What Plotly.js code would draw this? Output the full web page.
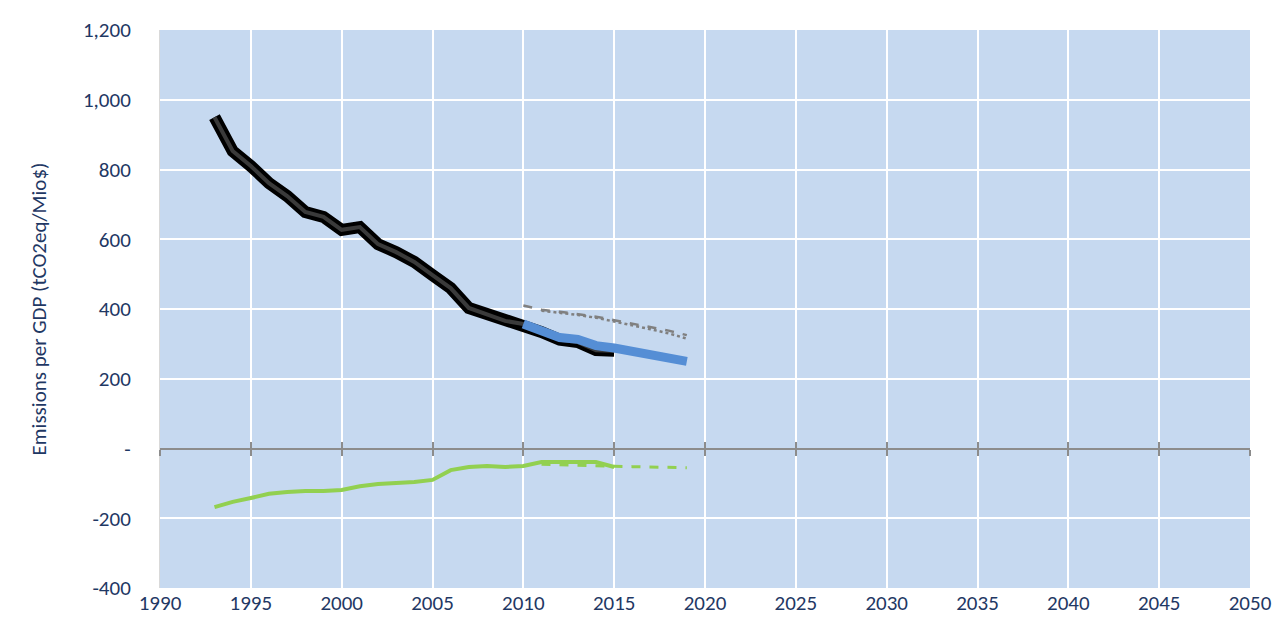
<!DOCTYPE html>
<html>
<head>
<meta charset="utf-8">
<script src="https://cdn.plot.ly/plotly-3.0.1.min.js"></script>
<style>html,body{margin:0;padding:0;background:#fff;}#chart{width:1278px;height:634px;}</style>
</head>
<body>
<div id="chart"></div>
<script>
// historic emissions intensity
const yearsHist = [1993,1994,1995,1996,1997,1998,1999,2000,2001,2002,2003,2004,2005,2006,2007,2008,2009,2010,2011,2012,2013,2014,2015];
const histValues = [950,853,810,761,724,678,664,627,635,586,563,535,497,460,403,386,366,357,334,312,305,282,280];
const sinkValues = [-168,-153,-142,-130,-125,-122,-122,-119,-108,-102,-99,-96,-90,-62,-53,-50,-53,-50,-39,-39,-39,-39,-53];

const yearsProj = [2010,2011,2012,2013,2014,2015,2016,2017,2018,2019];
const projValues = [357,340,318,313,295,288,278,268,258,250];
const grayDashed = [410,398,392,385,378,368,358,348,338,325];

const yearsProj2 = [2011,2012,2013,2014,2015,2016,2017,2018,2019];
const grayDotted = [395,390,383,375,365,353,342,330,315];
const sinkProj = [-45,-47,-48,-50,-51,-52,-53,-54,-55];

const xTicks = [1990,1995,2000,2005,2010,2015,2020,2025,2030,2035,2040,2045,2050];
const yTicks = [-400,-200,0,200,400,600,800,1000,1200];
const yTickText = ['-400','-200','-','200','400','600','800','1,000','1,200'];

const AXIS_BLUE = '#1f3864';

const traces = [
  { x: yearsProj2, y: sinkProj, mode: 'lines', line: { color: '#92d050', width: 3, dash: 'dash' } },
  { x: yearsHist, y: sinkValues, mode: 'lines', line: { color: '#92d050', width: 4 } },
  { x: yearsProj, y: grayDashed, mode: 'lines', line: { color: '#808080', width: 2.5, dash: 'dash' } },
  { x: yearsProj2, y: grayDotted, mode: 'lines', line: { color: '#808080', width: 2.5, dash: 'dot' } },
  { x: yearsHist, y: histValues, mode: 'lines', line: { color: '#000000', width: 12 } },
  { x: yearsHist, y: histValues, mode: 'lines', line: { color: '#3a3a3a', width: 4 } },
  { x: yearsProj, y: projValues, mode: 'lines', line: { color: '#558ed5', width: 9 } }
];

const zeroAxis = (side) => ({
  overlaying: 'x', anchor: 'free', position: 0.25,
  range: [1990, 2050], tickvals: xTicks, showticklabels: false,
  ticks: side, ticklen: 6, tickwidth: 2, tickcolor: '#8c8c8c',
  showline: true, linecolor: '#8c8c8c', linewidth: 2, showgrid: false, zeroline: false
});

const layout = {
  width: 1278, height: 634,
  margin: { l: 160, r: 28, t: 30, b: 46 },
  paper_bgcolor: '#ffffff',
  plot_bgcolor: '#c6d9f0',
  showlegend: false,
  font: { family: 'Calibri, Carlito, "Liberation Sans", sans-serif', color: AXIS_BLUE, size: 21 },
  xaxis: {
    range: [1990, 2050], tickvals: xTicks, showgrid: true, gridcolor: '#ffffff', gridwidth: 2,
    zeroline: false, showline: false, ticks: '', tickfont: { size: 21, color: AXIS_BLUE }
  },
  xaxis2: zeroAxis('outside'),
  xaxis3: zeroAxis('inside'),
  yaxis: {
    range: [-400, 1200], tickvals: yTicks, ticktext: yTickText,
    showgrid: true, gridcolor: '#ffffff', gridwidth: 2, zeroline: false,
    ticks: 'outside', ticklen: 24, tickcolor: 'rgba(0,0,0,0)',
    showline: true, linecolor: '#d9d9d9', linewidth: 1,
    tickfont: { size: 21, color: AXIS_BLUE },
    title: { text: 'Emissions per GDP (tCO2eq/Mio$)', font: { size: 21, color: AXIS_BLUE }, standoff: 30 }
  }
};

// dummy invisible traces so overlay axes render
traces.push({ x: [1990], y: [0], xaxis: 'x2', mode: 'markers', marker: { opacity: 0 }, hoverinfo: 'skip' });
traces.push({ x: [1990], y: [0], xaxis: 'x3', mode: 'markers', marker: { opacity: 0 }, hoverinfo: 'skip' });

Plotly.newPlot('chart', traces, layout, { displayModeBar: false, staticPlot: true });
</script>
</body>
</html>
